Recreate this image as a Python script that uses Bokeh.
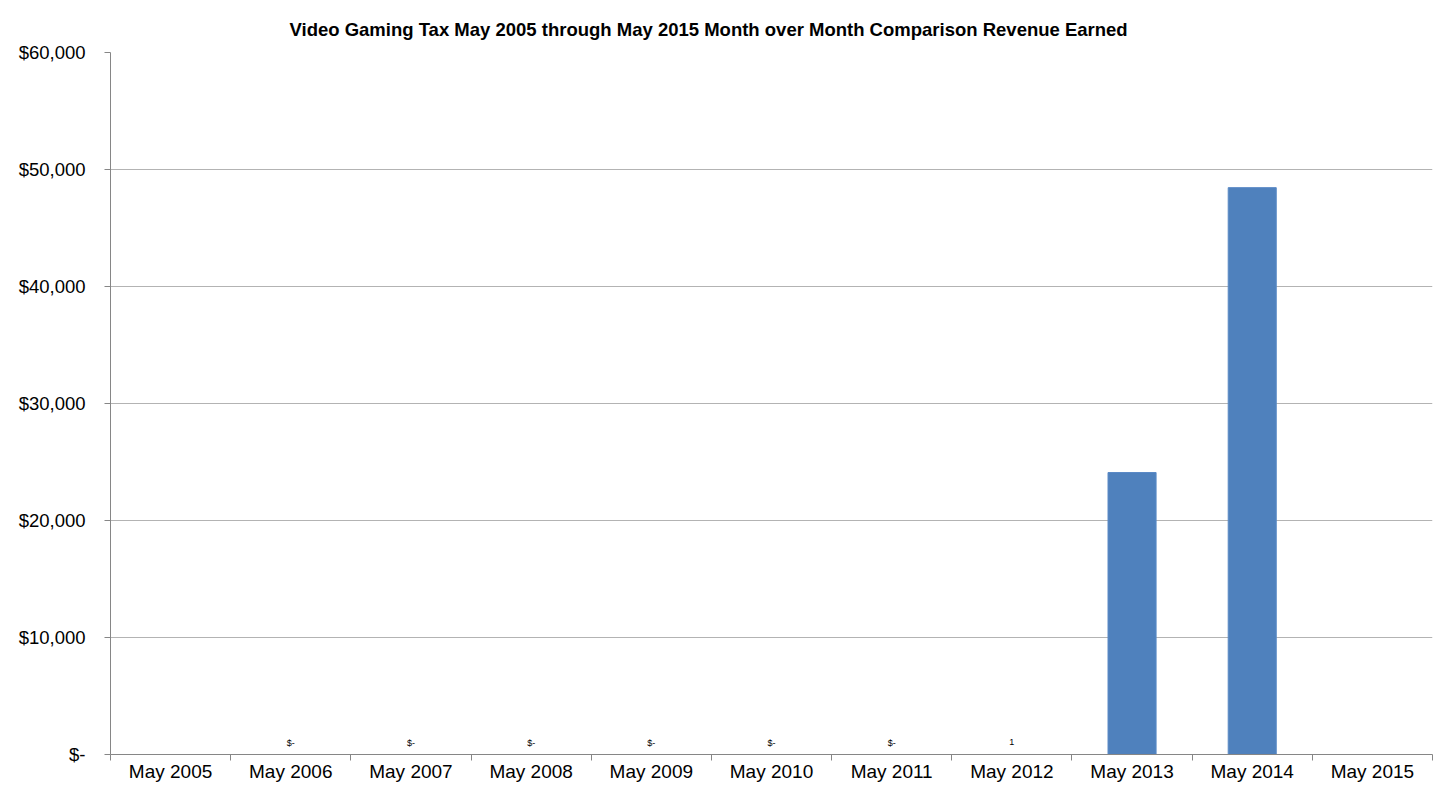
from bokeh.plotting import figure
from bokeh.models import Range1d, FixedTicker, NumeralTickFormatter, ColumnDataSource
from bokeh.core.properties import value
from bokeh.embed import file_html
from bokeh.resources import INLINE
import numpy as np

categories = ["May 2005", "May 2006", "May 2007", "May 2008", "May 2009", "May 2010",
              "May 2011", "May 2012", "May 2013", "May 2014", "May 2015"]
revenue = [None, 0, 0, 0, 0, 0, 0, 1, 24100, 48450, None]
data_labels = ["", "$-", "$-", "$-", "$-", "$-", "$-", "1", "", "", ""]
y_ticks = [0, 10000, 20000, 30000, 40000, 50000, 60000]
title_text = "Video Gaming Tax May 2005 through May 2015 Month over Month Comparison Revenue Earned"

n = len(categories)
xs = [i + 0.5 for i in range(n)]
vals = np.array([np.nan if v is None else v for v in revenue], dtype=float)
label_y = np.nan_to_num(vals, nan=0.0)

src = ColumnDataSource(dict(x=xs, top=vals, ly=label_y, lab=data_labels))

FONT = "Liberation Sans"

p = figure(width=1434, height=784, output_backend="svg", toolbar_location=None,
           x_range=Range1d(0, n), y_range=Range1d(0, 60000),
           min_border_left=110, min_border_right=2, min_border_top=52, min_border_bottom=26)

p.title.text = title_text
p.title.text_font = FONT
p.title.text_font_size = "18.5px"
p.title.text_font_style = "bold"
p.title.text_color = "#000000"
p.title.align = "left"
p.title.offset = 179
p.title.standoff = 26

p.vbar(x="x", top="top", width=0.4, bottom=0, source=src,
       fill_color="#4f81bd", line_color="#5a8ac6", line_width=1)

p.text(x="x", y="ly", text="lab", source=src, text_font=value(FONT),
       text_font_size="9px", text_align="center", text_baseline="middle",
       y_offset=-12, text_color="#000000")

# axes
p.xaxis.ticker = FixedTicker(ticks=xs, minor_ticks=list(range(n + 1)))
p.xaxis.major_label_overrides = {x: c for x, c in zip(xs, categories)}
p.xaxis.major_tick_line_color = None
p.xaxis.major_tick_out = 0
p.xaxis.major_tick_in = 0
p.xaxis.minor_tick_out = 6
p.xaxis.minor_tick_in = 0
p.xaxis.minor_tick_line_color = "#868686"
p.xaxis.major_label_standoff = 0
p.xaxis.major_label_text_font_size = "19px"

p.yaxis.ticker = FixedTicker(ticks=y_ticks)
p.yaxis.formatter = NumeralTickFormatter(format="$0,0")
p.yaxis.major_label_overrides = {0: "$-"}
p.yaxis.major_tick_out = 6
p.yaxis.major_tick_in = 0
p.yaxis.minor_tick_line_color = None
p.yaxis.major_label_standoff = 19
p.yaxis.major_tick_line_color = "#868686"
p.yaxis.major_label_text_font_size = "18.5px"

for ax in (p.xaxis, p.yaxis):
    ax.axis_line_color = "#868686"
    ax.major_label_text_font = FONT
    ax.major_label_text_color = "#000000"

p.xgrid.grid_line_color = None
p.ygrid.grid_line_color = "#b3b3b3"
p.ygrid.grid_line_width = 1
p.outline_line_color = None
p.background_fill_color = "white"
p.border_fill_color = "white"

open("out.html", "w").write(file_html(p, INLINE))
